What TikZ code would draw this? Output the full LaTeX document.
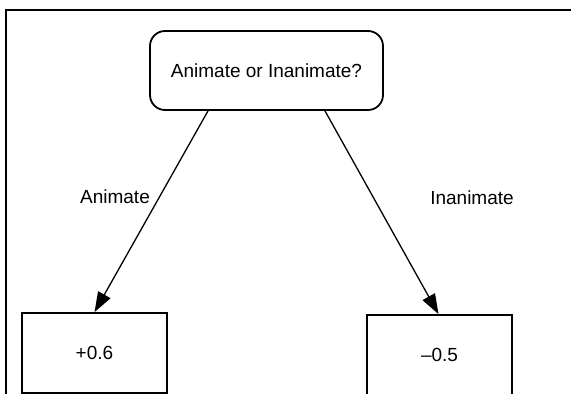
\documentclass[tikz,border=0pt]{standalone}
\usepackage{fontspec}
\setmainfont{Liberation Sans}
\usetikzlibrary{arrows.meta}
\begin{document}
\begin{tikzpicture}[x=1pt,y=-1pt,
  question/.style={draw,line width=1.8pt,rounded corners=15pt,minimum width=233pt,minimum height=79pt,font=\fontsize{19}{23}\selectfont},
  leaf/.style={draw,line width=1.8pt,minimum width=145pt,minimum height=80pt,font=\fontsize{19}{23}\selectfont},
  branch/.style={line width=1.3pt,-{Triangle[length=20pt,width=14pt]}},
  lbl/.style={font=\fontsize{19}{23}\selectfont}]
\useasboundingbox (0,0) rectangle (571,394);
% frame on the top and left edges
\draw[line width=1.5pt] (6,394) -- (6,10) -- (571,10);
% decision and its two outcomes
\node[question] (top) at (266.5,70.5) {Animate or Inanimate?};
\node[leaf] (l) at (94.5,353) {+0.6};
\node[leaf] (r) at (439.5,355) {–0.5};
% branches
\draw[branch] ([xshift=-58.5pt]top.south) -- (l.north);
\draw[branch] ([xshift=58.5pt]top.south) -- ([xshift=-1pt]r.north);
\node[lbl] (la) at (115,197) {Animate};
\node[lbl] (lb) at (472,198) {Inanimate};
\end{tikzpicture}
\end{document}
